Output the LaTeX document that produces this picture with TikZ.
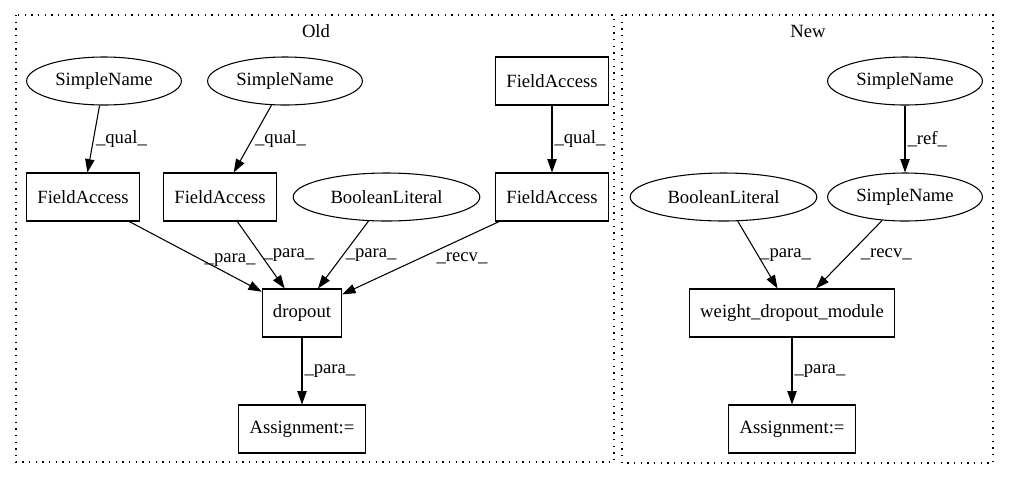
\documentclass[tikz,border=0pt]{standalone}
\usepackage{fontspec}
\setmainfont{Liberation Serif}
\usetikzlibrary{arrows.meta,shapes.geometric,calc}
\begin{document}
\begin{tikzpicture}[x=0.75pt,y=-0.75pt,
  every node/.style={font=\fontsize{14pt}{16pt}\selectfont},
  box/.style={draw, line width=0.8pt, rectangle, minimum height=36pt, inner xsep=8pt},
  oval/.style={draw, line width=0.8pt, ellipse, minimum height=36pt, inner ysep=0pt},
  edge/.style={draw, line width=0.8pt, -{Triangle[length=10pt,width=7pt]}},
  lbl/.style={right, inner sep=1.5pt},
  cluster/.style={draw, line width=0.8pt, dash pattern=on 0.9pt off 4.1pt}]
\useasboundingbox (0,0) rectangle (1009,480);
% clusters
\draw[cluster] (16,15) rectangle (614,462);
\draw[cluster] (622,15) rectangle (993,463);
\node (oldtitle) at (316,31) {Old};
\node (newtitle) at (808,31) {New};
% Old
\node[oval, inner xsep=4.5pt, minimum width=116pt] (sn1) at (104,81) {SimpleName};
\node[oval, inner xsep=4.5pt, minimum width=116pt] (sn2) at (285,81) {SimpleName};
\node[box] (fatop) at (552,81) {FieldAccess};
\node[box] (fa1) at (83,197) {FieldAccess};
\node[box] (fa2) at (220,197) {FieldAccess};
\node[oval, inner xsep=7.5pt, minimum width=138pt] (bool1) at (386.5,197) {BooleanLiteral};
\node[box] (fa3) at (552,197) {FieldAccess};
\node[box] (dropout) at (302,313) {dropout};
\node[box] (asg1) at (302,429) {Assignment:=};
\draw[edge] (sn1) -- node[lbl]{\_qual\_} (fa1);
\draw[edge] (sn2) -- node[lbl]{\_qual\_} (fa2);
\draw[edge] (fatop) -- node[lbl]{\_qual\_} (fa3);
\draw[edge] (fa1) -- node[lbl, pos=0.55]{\_para\_} (dropout);
\draw[edge] (fa2) -- node[lbl]{\_para\_} (dropout);
\draw[edge] (bool1) -- node[lbl]{\_para\_} ($(dropout.north)+(16,0)$);
\draw[edge] (fa3) -- node[lbl, xshift=10pt]{\_recv\_} (dropout);
\draw[edge] (dropout) -- node[lbl]{\_para\_} (asg1);
% New
\node[oval, inner xsep=4.5pt, minimum width=116pt] (snt) at (905,81) {SimpleName};
\node[oval, inner xsep=4.5pt, minimum width=116pt] (snb) at (905,197) {SimpleName};
\node[oval, inner xsep=7.5pt, minimum width=138pt] (bool2) at (723.5,197) {BooleanLiteral};
\node[box] (wdm) at (792,313) {weight\_dropout\_module};
\node[box] (asg2) at (792,429) {Assignment:=};
\draw[edge] (snt) -- node[lbl]{\_ref\_} (snb);
\draw[edge] (bool2) -- node[lbl]{\_para\_} (wdm);
\draw[edge] (snb) -- node[lbl, xshift=7pt]{\_recv\_} (wdm);
\draw[edge] (wdm) -- node[lbl]{\_para\_} (asg2);
\end{tikzpicture}
\end{document}
